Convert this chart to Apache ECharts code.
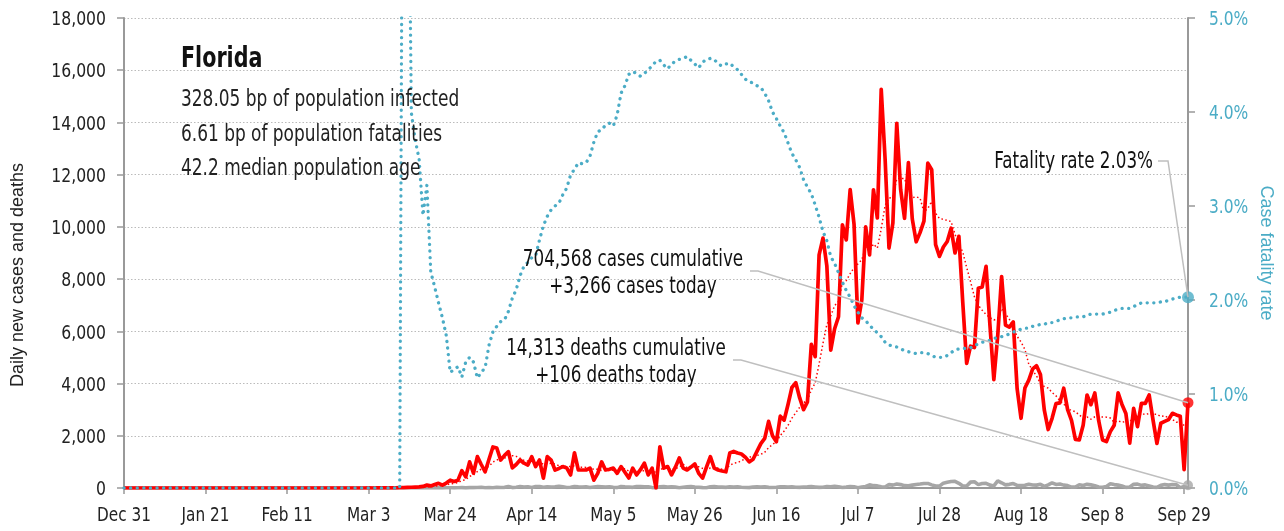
<!DOCTYPE html>
<html>
<head>
<meta charset="utf-8">
<script src="https://cdn.jsdelivr.net/npm/echarts@6/dist/echarts.min.js"></script>
<style>
html, body { margin: 0; padding: 0; background: #fff; }
#chart { width: 1284px; height: 531px; }
</style>
</head>
<body>
<div id="chart"></div>
<script>
// condensed face, squeezed a little more with scaleX to get the narrow look
var FONT = "'DejaVu Sans Condensed', 'DejaVu Sans', sans-serif";
var TITLE_FONT = "'Liberation Sans', Arial, sans-serif";
var TEAL = '#4bacc6';
var RED = '#ff0000';
var GREY = '#a6a6a6';

// day 0 = Dec 31, one step = one day
var lastDay = 274;
var tickDays = [0, 21, 42, 63, 84, 105, 126, 147, 168, 189, 210, 231, 252, 273];
var tickLabels = ['Dec 31', 'Jan 21', 'Feb 11', 'Mar 3', 'Mar 24', 'Apr 14', 'May 5',
  'May 26', 'Jun 16', 'Jul 7', 'Jul 28', 'Aug 18', 'Sep 8', 'Sep 29'];
var caseTicks = [0, 2000, 4000, 6000, 8000, 10000, 12000, 14000, 16000, 18000];
var rateTicks = [0, 1, 2, 3, 4, 5];

// daily new cases, first value = day 61 (Mar 1); zero before that
var casesStart = 61;
var dailyCases = [
  0, 0, 2, 0, 1, 2, 4, 6, 4, 6,
  11, 12, 25, 28, 35, 40, 60, 110, 80, 130,
  180, 110, 190, 300, 250, 300, 660, 430, 1000, 570,
  1200, 900, 620, 1100, 1570, 1530, 1070, 1250, 1390, 770,
  900, 1070, 950, 880, 1200, 820, 1070, 380, 1200, 1070,
  690, 750, 820, 770, 500, 1350, 690, 690, 690, 760,
  300, 560, 1000, 690, 720, 760, 560, 820, 600, 380,
  760, 500, 700, 950, 500, 760, 0, 1580, 760, 820,
  500, 800, 1150, 760, 690, 800, 920, 560, 380, 800,
  1200, 760, 690, 650, 620, 1340, 1400, 1340, 1300, 1180,
  1000, 1100, 1400, 1700, 1900, 2550, 2000, 1770, 2750, 2600,
  3200, 3850, 4030, 3450, 3000, 3300, 5500, 5030, 8930, 9570,
  8500, 5280, 6100, 6560, 10080, 9500, 11430, 10100, 6320, 7200,
  10000, 8930, 11420, 10340, 15270, 12600, 9190, 10150, 13970, 11430,
  10330, 12460, 10300, 9430, 9780, 10220, 12440, 12190, 9320, 8870,
  9230, 9440, 9950, 9000, 9640, 7100, 4770, 5430, 5380, 7650,
  7700, 8490, 6230, 4150, 5830, 8100, 6240, 6160, 6360, 3800,
  2670, 3830, 4130, 4560, 4680, 4350, 2980, 2240, 2670, 3230,
  3260, 3820, 3000, 2590, 1860, 1840, 2400, 3560, 3190, 3640,
  2580, 1840, 1780, 2160, 2400, 3640, 3200, 2850, 1720, 3050,
  2350, 3240, 3240, 3560, 2600, 1710, 2480, 2550, 2620, 2860,
  2800, 2750, 700, 3266
];

// daily deaths, same start day
var dailyDeaths = [
  0, 0, 0, 0, 0, 0, 2, 0, 0, 0,
  0, 0, 3, 1, 2, 2, 1, 3, 2, 4,
  5, 3, 8, 9, 5, 8, 16, 5, 14, 15,
  19, 30, 8, 20, 10, 28, 20, 25, 55, 15,
  30, 58, 35, 50, 20, 55, 60, 28, 45, 35,
  50, 70, 45, 20, 30, 58, 45, 35, 42, 20,
  40, 55, 50, 40, 45, 28, 15, 60, 45, 40,
  25, 55, 60, 45, 45, 15, 10, 50, 55, 40,
  48, 33, 12, 30, 45, 60, 40, 30, 15, 10,
  45, 55, 40, 35, 25, 45, 40, 42, 30, 20,
  15, 40, 45, 35, 45, 25, 20, 30, 45, 50,
  40, 45, 30, 25, 40, 45, 55, 40, 25, 30,
  55, 45, 65, 50, 20, 35, 60, 50, 10, 40,
  60, 120, 90, 80, 45, 35, 130, 110, 150, 130,
  90, 85, 110, 135, 150, 170, 175, 120, 75, 70,
  185, 220, 250, 255, 180, 75, 75, 225, 240, 130,
  175, 180, 110, 80, 275, 200, 120, 140, 170, 100,
  90, 105, 145, 115, 110, 140, 60, 120, 200, 135,
  150, 110, 90, 35, 40, 125, 95, 140, 120, 90,
  40, 25, 55, 160, 130, 110, 80, 25, 40, 140,
  150, 100, 120, 80, 35, 25, 100, 130, 110, 135,
  125, 15, 60, 106
];

// case fatality rate in %, first value = day 71; zero before that
var rateStart = 71;
var fatalityRate = [
  0, 10, 8, 3.99, 3.70, 3.50, 2.90, 3.22, 2.30, 2.14,
  1.97, 1.81, 1.62, 1.23, 1.26, 1.29, 1.18, 1.34, 1.39, 1.34,
  1.17, 1.23, 1.28, 1.52, 1.66, 1.72, 1.77, 1.79, 1.88, 2.02,
  2.11, 2.26, 2.36, 2.40, 2.45, 2.47, 2.64, 2.79, 2.89, 2.96,
  3.00, 3.03, 3.12, 3.19, 3.33, 3.39, 3.46, 3.45, 3.46, 3.53,
  3.68, 3.79, 3.81, 3.86, 3.88, 3.85, 3.97, 4.20, 4.28, 4.40,
  4.43, 4.41, 4.38, 4.41, 4.45, 4.49, 4.54, 4.55, 4.50, 4.46,
  4.51, 4.54, 4.56, 4.57, 4.59, 4.55, 4.51, 4.47, 4.53, 4.56,
  4.57, 4.56, 4.51, 4.49, 4.51, 4.52, 4.48, 4.45, 4.40, 4.35,
  4.32, 4.31, 4.28, 4.26, 4.20, 4.12, 4.00, 3.93, 3.85, 3.78,
  3.67, 3.56, 3.49, 3.41, 3.28, 3.20, 3.13, 3.01, 2.88, 2.73,
  2.63, 2.46, 2.39, 2.29, 2.19, 2.10, 2.03, 1.94, 1.87, 1.81,
  1.78, 1.73, 1.69, 1.65, 1.61, 1.55, 1.52, 1.51, 1.50, 1.48,
  1.46, 1.45, 1.44, 1.43, 1.44, 1.44, 1.43, 1.41, 1.39, 1.39,
  1.39, 1.41, 1.44, 1.47, 1.48, 1.48, 1.49, 1.49, 1.52, 1.53,
  1.55, 1.56, 1.57, 1.59, 1.60, 1.61, 1.62, 1.64, 1.66, 1.67,
  1.69, 1.70, 1.70, 1.72, 1.73, 1.74, 1.74, 1.76, 1.76, 1.77,
  1.79, 1.80, 1.81, 1.81, 1.82, 1.82, 1.82, 1.84, 1.85, 1.85,
  1.85, 1.85, 1.86, 1.87, 1.89, 1.90, 1.91, 1.91, 1.91, 1.93,
  1.95, 1.97, 1.97, 1.97, 1.97, 1.97, 1.98, 1.98, 2.00, 2.01,
  2.02, 2.03, 2.03, 2.03
];

var infoLines = ['328.05 bp of population infected', '6.61 bp of population fatalities', '42.2 median population age'];
var casesNote = ['704,568 cases cumulative', '+3,266 cases today'];
var deathsNote = ['14,313 deaths cumulative', '+106 deaths today'];
var rateNote = 'Fatality rate 2.03%';

function toPoints(arr, start) {
  var out = [[0, 0]];
  arr.forEach(function (v, i) { out.push([start + i, v]); });
  return out;
}

// trailing 7-day mean of the daily cases
function trailingMean(arr, start) {
  var out = [[0, 0]];
  for (var i = 0; i < arr.length; i++) {
    var s = 0;
    for (var k = i - 6; k <= i; k++) s += k >= 0 ? arr[k] : 0;
    out.push([start + i, s / 7]);
  }
  return out;
}

var casesData = toPoints(dailyCases, casesStart);
var deathsData = toPoints(dailyDeaths, casesStart);
var avgData = trailingMean(dailyCases, casesStart);
var rateData = toPoints(fatalityRate, rateStart);

var lastCases = dailyCases[dailyCases.length - 1];
var lastDeaths = dailyDeaths[dailyDeaths.length - 1];
var lastRate = fatalityRate[fatalityRate.length - 1];

var chart = echarts.init(document.getElementById('chart'));

var option = {
  animation: false,
  backgroundColor: '#fff',
  grid: { left: 124, right: 96, top: 18, bottom: 43 },
  xAxis: {
    type: 'value',
    min: 0,
    max: lastDay,
    axisLine: { show: true, lineStyle: { color: '#999', width: 2 } },
    axisTick: { show: true, length: 6, lineStyle: { color: '#999', width: 1.5 }, customValues: tickDays },
    axisLabel: { show: false },
    splitLine: { show: false }
  },
  yAxis: [{
    type: 'value',
    min: caseTicks[0],
    max: caseTicks[caseTicks.length - 1],
    interval: 2000,
    axisLine: { show: true, lineStyle: { color: '#999', width: 2 } },
    axisTick: { show: true, length: 7, lineStyle: { color: '#999', width: 1.5 } },
    axisLabel: { show: false },
    splitLine: { show: true, lineStyle: { color: '#bbb', width: 1, type: [1.5, 2] } }
  }, {
    type: 'value',
    min: rateTicks[0],
    max: rateTicks[rateTicks.length - 1],
    interval: 1,
    position: 'right',
    axisLine: { show: true, lineStyle: { color: '#999', width: 2 } },
    axisTick: { show: true, length: 7, lineStyle: { color: '#999', width: 1.5 } },
    axisLabel: { show: false },
    splitLine: { show: false }
  }],
  series: [{
    name: 'Deaths',
    type: 'line',
    data: deathsData,
    symbol: 'none',
    lineStyle: { color: GREY, width: 3.6 },
    z: 2
  }, {
    name: 'Cases',
    type: 'line',
    data: casesData,
    symbol: 'none',
    lineStyle: { color: RED, width: 3.7, join: 'round' },
    z: 3
  }, {
    name: 'Cases 7-day average',
    type: 'line',
    data: avgData,
    symbol: 'none',
    lineStyle: { color: RED, width: 1.5, type: [1.5, 2.5] },
    z: 4
  }, {
    name: 'Case fatality rate',
    type: 'line',
    yAxisIndex: 1,
    data: rateData,
    symbol: 'none',
    clip: true,
    lineStyle: { color: TEAL, width: 3.3, type: [0.1, 6.5], cap: 'round' },
    z: 5
  }, {
    type: 'scatter',
    data: [[lastDay, lastDeaths]],
    symbolSize: 10,
    itemStyle: { color: GREY },
    z: 6
  }, {
    type: 'scatter',
    data: [[lastDay, lastCases]],
    symbolSize: 11,
    itemStyle: { color: RED },
    z: 6
  }, {
    type: 'scatter',
    yAxisIndex: 1,
    data: [[lastDay, lastRate]],
    symbolSize: 12,
    itemStyle: { color: TEAL },
    z: 6
  }]
};

chart.setOption(option);

function label(str, x, y, size, align, color, sx, weight) {
  return {
    type: 'text', x: x, y: y, scaleX: sx, z: 20,
    style: {
      text: str, x: 0, y: 0, fill: color,
      font: (weight ? weight + ' ' : '') + size + 'px ' + FONT,
      align: align, verticalAlign: 'middle'
    }
  };
}

var graphics = [];

// tick labels placed through the axes
tickDays.forEach(function (d, i) {
  var p = chart.convertToPixel({ seriesIndex: 1 }, [d, 0]);
  graphics.push(label(tickLabels[i], p[0], p[1] + 28, 20, 'center', '#222', 0.85));
});
caseTicks.forEach(function (v) {
  var p = chart.convertToPixel({ seriesIndex: 1 }, [0, v]);
  graphics.push(label(v.toLocaleString('en-US'), p[0] - 18, p[1] + 2, 20, 'right', '#222', 0.87));
});
rateTicks.forEach(function (v) {
  var p = chart.convertToPixel({ seriesIndex: 3 }, [lastDay, v]);
  graphics.push(label(v.toFixed(1) + '%', p[0] + 21, p[1] + 2, 20, 'left', TEAL, 0.86));
});

// annotations, connectors end at the last data points
var pDeaths = chart.convertToPixel({ seriesIndex: 0 }, [lastDay, lastDeaths]);
var pCases = chart.convertToPixel({ seriesIndex: 1 }, [lastDay, lastCases]);
var pRate = chart.convertToPixel({ seriesIndex: 3 }, [lastDay, lastRate]);
var connector = { stroke: '#bfbfbf', lineWidth: 1.5, fill: null };

graphics.push(
  label('Florida', 181, 60, 28, 'left', '#111', 0.82, 'bold'),
  label(infoLines[0], 181, 100, 23, 'left', '#222', 0.82),
  label(infoLines[1], 181, 135, 23, 'left', '#222', 0.82),
  label(infoLines[2], 181, 169, 23, 'left', '#222', 0.82),
  label(casesNote[0], 633, 260, 23, 'center', '#111', 0.81),
  label(casesNote[1], 633, 287, 23, 'center', '#111', 0.81),
  label(deathsNote[0], 616, 349, 23, 'center', '#111', 0.81),
  label(deathsNote[1], 616, 376, 23, 'center', '#111', 0.81),
  label(rateNote, 1153, 162, 23, 'right', '#111', 0.81),
  { type: 'polyline', shape: { points: [[1158, 161], [1168, 161], pRate] }, style: connector, z: 10 },
  { type: 'polyline', shape: { points: [[750, 271], [758, 271], pCases] }, style: connector, z: 10 },
  { type: 'polyline', shape: { points: [[733, 360], [741, 360], pDeaths] }, style: connector, z: 10 },
  { type: 'text', x: 18, y: 275, rotation: Math.PI / 2, z: 20,
    style: { text: 'Daily new cases and deaths', x: 0, y: 0, fill: '#222', font: '18px ' + TITLE_FONT, align: 'center', verticalAlign: 'middle' } },
  { type: 'text', x: 1266, y: 253, rotation: -Math.PI / 2, z: 20,
    style: { text: 'Case fatality rate', x: 0, y: 0, fill: TEAL, font: '18px ' + TITLE_FONT, align: 'center', verticalAlign: 'middle' } }
);

chart.setOption({ graphic: graphics });
</script>
</body>
</html>
